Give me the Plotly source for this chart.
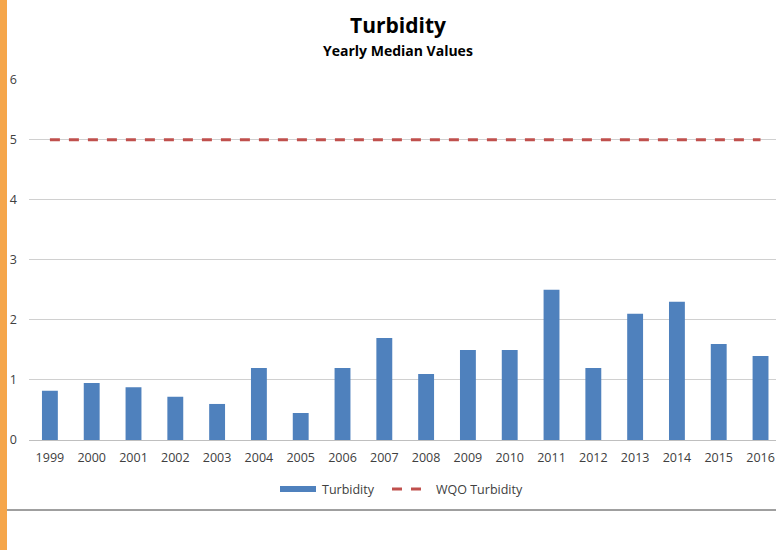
import plotly.graph_objects as go

years = ["1999", "2000", "2001", "2002", "2003", "2004", "2005", "2006", "2007",
         "2008", "2009", "2010", "2011", "2012", "2013", "2014", "2015", "2016"]
turbidity = [0.82, 0.95, 0.88, 0.72, 0.60, 1.20, 0.45, 1.20, 1.70,
             1.10, 1.50, 1.50, 2.50, 1.20, 2.10, 2.30, 1.60, 1.40]
wqo = [5] * len(years)
y_ticks = [0, 1, 2, 3, 4, 5, 6]

BAR_COLOR = "#4F81BD"
LINE_COLOR = "#C0504D"
W, H = 776, 550
px = lambda v: v / W
py = lambda v: 1 - v / H

FONT = "Open Sans"
TXT = "#404040"
fig = go.Figure()
fig.add_trace(go.Bar(x=years, y=turbidity, name="Turbidity", showlegend=False,
                     marker=dict(color=BAR_COLOR, line=dict(width=0))))
fig.add_trace(go.Scatter(x=years, y=wqo, name="WQO Turbidity", mode="lines", showlegend=False,
                         line=dict(color=LINE_COLOR, width=3, dash="10px,9px")))

fig.update_layout(
    template="none",
    width=W, height=H, autosize=False,
    margin=dict(l=0, r=0, t=0, b=0, pad=0, autoexpand=False),
    paper_bgcolor="white", plot_bgcolor="white",
    bargap=0.62,
    font=dict(family=FONT, size=12, color=TXT),
    xaxis=dict(domain=[px(29), 1], range=[-0.5, 17.37], type="category", automargin=False,
               showgrid=False, showline=True, linecolor="#BFBFBF", linewidth=1,
               ticks="", ticklabelstandoff=6, tickfont=dict(size=12.5, color=TXT)),
    yaxis=dict(domain=[py(440), py(79)], range=[0, 6.01], tickvals=y_ticks, automargin=False,
               showgrid=True, gridcolor="#D0D0D0", gridwidth=1, zeroline=False,
               showline=False, ticks="", ticklabelstandoff=11,
               tickfont=dict(size=12.5, color=TXT)),
    showlegend=False,
    shapes=[
        dict(type="rect", xref="paper", yref="paper", x0=0, x1=px(7), y0=0, y1=1,
             fillcolor="#F5A64B", line=dict(width=0), layer="above"),
        dict(type="line", xref="paper", yref="paper", x0=px(7), x1=1, y0=py(510), y1=py(510),
             line=dict(color="#404040", width=1)),
        # legend swatches
        dict(type="rect", xref="paper", yref="paper", x0=px(280), x1=px(316),
             y0=py(492), y1=py(486), fillcolor=BAR_COLOR, line=dict(width=0)),
        dict(type="line", xref="paper", yref="paper", x0=px(392), x1=px(422),
             y0=py(489), y1=py(489), line=dict(color=LINE_COLOR, width=3, dash="10px,9px")),
    ],
    annotations=[
        dict(text="<b>Turbidity</b>", xref="paper", yref="paper", x=px(398), y=py(25),
             xanchor="center", yanchor="middle", showarrow=False,
             font=dict(family=FONT, size=21, color="#000000")),
        dict(text="<b>Yearly Median Values</b>", xref="paper", yref="paper", x=px(398), y=py(50),
             xanchor="center", yanchor="middle", showarrow=False,
             font=dict(family=FONT, size=14, color="#000000")),
        dict(text="Turbidity", xref="paper", yref="paper", x=px(320), y=py(489),
             xanchor="left", yanchor="middle", showarrow=False,
             font=dict(family=FONT, size=12.5, color=TXT)),
        dict(text="WQO Turbidity", xref="paper", yref="paper", x=px(434), y=py(489),
             xanchor="left", yanchor="middle", showarrow=False,
             font=dict(family=FONT, size=12.5, color=TXT)),
    ],
)
post = (
    "var gd=document.getElementById('{plot_id}');"
    "gd.style.position='fixed';gd.style.top='0px';gd.style.left='0px';"
    "document.documentElement.style.margin='0';document.documentElement.style.overflow='hidden';"
    "document.body.style.margin='0';document.body.style.overflow='hidden';"
)
fig.write_html("out.html", config={"displayModeBar": False}, post_script=post)
